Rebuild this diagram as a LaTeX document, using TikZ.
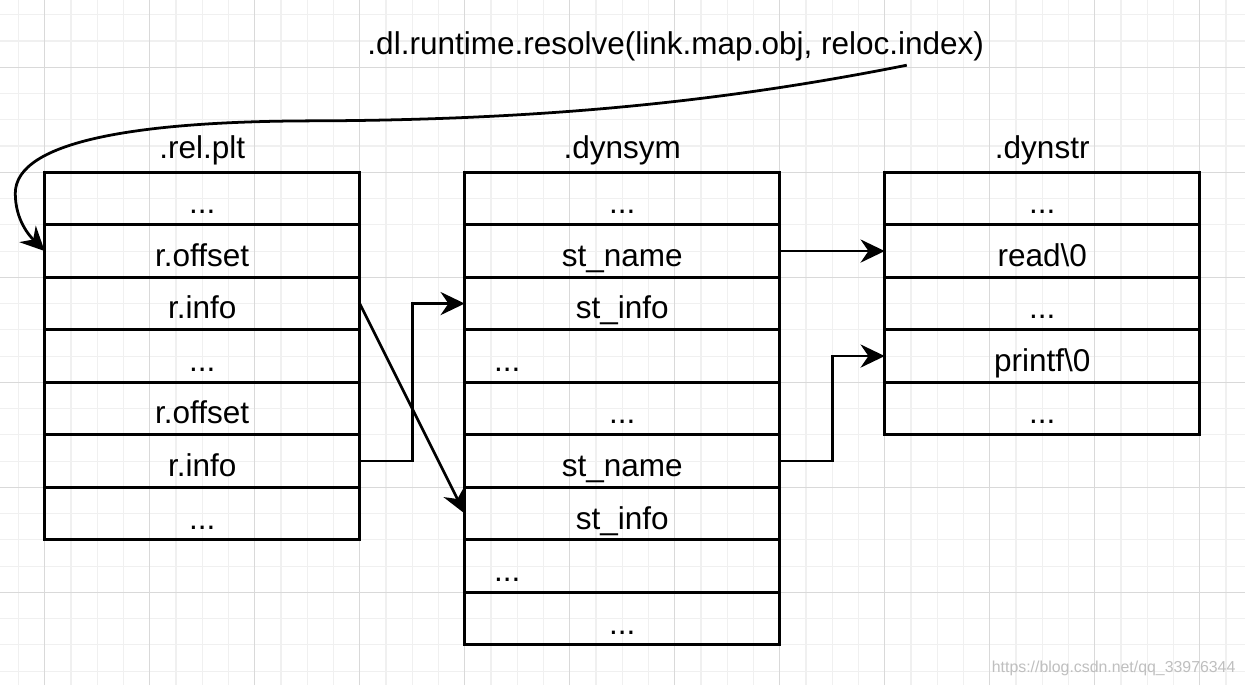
\documentclass[tikz,border=0pt]{standalone}
\usepackage{fontspec}
\setmainfont{Liberation Sans}
\usetikzlibrary{positioning,arrows.meta}
\tikzset{
>={Stealth[length=2.3mm, width=2.2mm, inset=0.75mm]},
every node/.style={font=\fontsize{8.54}{10.2}\selectfont},
cell/.style={draw, rectangle, line width=0.75pt, minimum width=3cm, minimum height=0.5cm,
  outer sep=0pt, inner sep=0pt, text height=0.30cm, text depth=0.006cm},
lcell/.style={cell, text width=2.44cm, align=left, inner xsep=0.28cm},
}

\begin{document}
\begin{tikzpicture}
    [link/.style={->, line width=0.75pt},
    minorgrid/.style={draw=black!6, line width=0.3pt},
    majorgrid/.style={draw=black!15, line width=0.3pt}
    ]
    \useasboundingbox (-0.4257,-4.883) rectangle (11.431,1.641);
    \fill[white] (-0.4257,-4.883) rectangle (11.431,1.641);
    \draw[minorgrid, step=0.25cm] (-0.4257,-4.883) grid (11.431,1.641);
    \draw[majorgrid, step=1cm] (-0.4257,-4.883) grid (11.431,1.641);

    % .rel.plt
    \node [cell, anchor=north west] (rp0) at (0,0) {...};
    \node [cell] (rp1) [below=0pt of rp0] {r.offset};
    \node [cell] (rp2) [below=0pt of rp1] {r.info};
    \node [cell] (rp3) [below=0pt of rp2] {...};
    \node [cell] (rp4) [below=0pt of rp3] {r.offset};
    \node [cell] (rp5) [below=0pt of rp4] {r.info};
    \node [cell] (rp6) [below=0pt of rp5] {...};

    % .dynsym
    \node [cell] (ds0) [right=1cm of rp0] {...};
    \node [cell] (ds1) [below=0pt of ds0] {st\_name};
    \node [cell] (ds2) [below=0pt of ds1] {st\_info};
    \node [lcell] (ds3) [below=0pt of ds2] {...};
    \node [cell] (ds4) [below=0pt of ds3] {...};
    \node [cell] (ds5) [below=0pt of ds4] {st\_name};
    \node [cell] (ds6) [below=0pt of ds5] {st\_info};
    \node [lcell] (ds7) [below=0pt of ds6] {...};
    \node [cell] (ds8) [below=0pt of ds7] {...};

    % .dynstr
    \node [cell] (dt0) [right=1cm of ds0] {...};
    \node [cell] (dt1) [below=0pt of dt0] {read\textbackslash 0};
    \node [cell] (dt2) [below=0pt of dt1] {...};
    \node [cell] (dt3) [below=0pt of dt2] {printf\textbackslash 0};
    \node [cell] (dt4) [below=0pt of dt3] {...};

    % titles
    \node [anchor=base] (trp) at ([yshift=0.13cm]rp0.north) {.rel.plt};
    \node [anchor=base] (tds) at ([yshift=0.13cm]ds0.north) {.dynsym};
    \node [anchor=base] (tdt) at ([yshift=0.13cm]dt0.north) {.dynstr};
    \node [anchor=base] (call) at (6.01,1.12) {.dl.runtime.resolve(link.map.obj, reloc.index)};
    \coordinate (src) at (8.21,1.02);

    \draw[link] (src) .. controls (6.5,0.68) and (4.8,0.5) .. (2.6,0.49)
        .. controls (0.9,0.49) and (-0.28,0.3) .. (-0.28,-0.2)
        .. controls (-0.28,-0.45) and (-0.15,-0.6) .. (rp1.west);
    \draw[link] (rp2.east) -- (ds6.west);
    \draw[link] (rp5.east) -- ++(0.5,0) |- (ds2.west);
    \draw[link] (ds1.east) -- (dt1.west);
    \draw[link] (ds5.east) -- ++(0.5,0) |- (dt3.west);

    \node [anchor=base, text=black!25, font=\fontsize{4.3}{5}\selectfont] (mark) at (10.18,-4.76)
        {https://blog.csdn.net/qq\_33976344};
\end{tikzpicture}
\end{document}
